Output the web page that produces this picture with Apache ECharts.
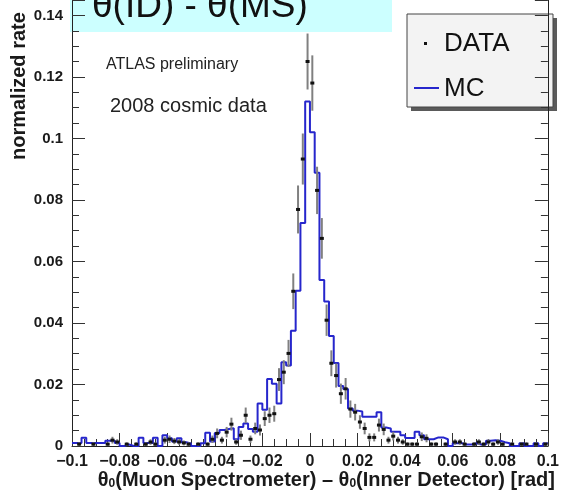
<!DOCTYPE html>
<html>
<head>
<meta charset="utf-8">
<script src="https://cdn.jsdelivr.net/npm/echarts@6/dist/echarts.min.js"></script>
<style>
  html, body { margin: 0; padding: 0; background: #ffffff; }
  #chart { width: 562px; height: 492px; }
</style>
</head>
<body>
<div id="chart"></div>
<script>
// Histogram binning: 100 bins of 0.002 rad from -0.1 to 0.1
const BIN_LOW = -0.1;
const BIN_WIDTH = 0.002;

// Monte Carlo normalized rate per bin
const mcRate = [
  0.0010, 0.0010, 0.0027, 0.0010, 0.0010, 0.0010, 0.0010, 0.0017, 0.0017, 0.0010,
  0.0000, 0.0005, 0.0000, 0.0000, 0.0027, 0.0010, 0.0010, 0.0027, 0.0000, 0.0035,
  0.0025, 0.0015, 0.0025, 0.0012, 0.0008, 0.0000, 0.0000, 0.0009, 0.0043, 0.0015,
  0.0042, 0.0052, 0.0055, 0.0058, 0.0022, 0.0062, 0.0073, 0.0055, 0.0046, 0.0138,
  0.0118, 0.0218, 0.0202, 0.0138, 0.0272, 0.0262, 0.0375, 0.0505, 0.0725, 0.1120,
  0.1020, 0.0888, 0.0540, 0.0470, 0.0358, 0.0270, 0.0195, 0.0185, 0.0122, 0.0115,
  0.0112, 0.0095, 0.0095, 0.0095, 0.0110, 0.0060, 0.0057, 0.0046, 0.0046, 0.0035,
  0.0026, 0.0026, 0.0046, 0.0035, 0.0022, 0.0022, 0.0028, 0.0028, 0.0022, 0.0000,
  0.0009, 0.0009, 0.0005, 0.0005, 0.0009, 0.0005, 0.0005, 0.0017, 0.0019, 0.0017,
  0.0012, 0.0009, 0.0000, 0.0000, 0.0009, 0.0000, 0.0000, 0.0009, 0.0000, 0.0009
];

// Cosmic data normalized rate per bin (null = empty bin)
const dataRate = [
  null,   0.0006, null,   null,   0.0006, null,   null,   0.0006, 0.0019, 0.0013,
  null,   0.0006, null,   0.0006, null,   0.0006, 0.0013, 0.0006, null,   0.0019,
  0.0022, 0.0016, 0.0013, 0.0010, 0.0006, null,   0.0006, null,   0.0006, 0.0022,
  0.0041, 0.0019, 0.0045, 0.0071, 0.0013, 0.0035, 0.0100, 0.0022, 0.0057, 0.0052,
  0.0089, 0.0100, 0.0105, 0.0216, 0.0240, 0.0301, 0.0503, 0.0769, 0.0933, 0.1250,
  0.1180, 0.0831, 0.0675, 0.0409, 0.0269, 0.0229, 0.0170, 0.0186, 0.0120, 0.0110,
  0.0078, 0.0057, 0.0028, 0.0028, 0.0068, 0.0054, 0.0019, 0.0032, 0.0019, 0.0013,
  0.0006, 0.0006, 0.0006, 0.0030, 0.0025, 0.0006, 0.0006, null,   0.0006, null,
  0.0013, 0.0013, 0.0006, null,   0.0006, 0.0013, 0.0006, 0.0013, 0.0006, 0.0013,
  0.0006, null,   0.0006, null,   0.0006, 0.0006, null,   0.0006, null,   0.0006
];

// Statistical uncertainty of each data bin
const dataErr = [
  0,      0.0006, 0,      0,      0.0006, 0,      0,      0.0006, 0.0011, 0.0009,
  0,      0.0006, 0,      0.0006, 0,      0.0006, 0.0009, 0.0006, 0,      0.0011,
  0.0012, 0.0010, 0.0009, 0.0008, 0.0006, 0,      0.0006, 0,      0.0006, 0.0012,
  0.0016, 0.0011, 0.0017, 0.0021, 0.0009, 0.0015, 0.0025, 0.0012, 0.0019, 0.0018,
  0.0024, 0.0025, 0.0026, 0.0037, 0.0039, 0.0044, 0.0058, 0.0078, 0.0083, 0.0091,
  0.0090, 0.0077, 0.0066, 0.0051, 0.0042, 0.0039, 0.0033, 0.0035, 0.0028, 0.0027,
  0.0022, 0.0019, 0.0013, 0.0013, 0.0021, 0.0019, 0.0011, 0.0014, 0.0011, 0.0009,
  0.0006, 0.0006, 0.0006, 0.0014, 0.0013, 0.0006, 0.0006, 0,      0.0006, 0,
  0.0009, 0.0009, 0.0006, 0,      0.0006, 0.0009, 0.0006, 0.0009, 0.0006, 0.0009,
  0.0006, 0,      0.0006, 0,      0.0006, 0.0006, 0,      0.0006, 0,      0.0006
];

// Axis tick labels
const xTickLabels = ['\u22120.1', '\u22120.08', '\u22120.06', '\u22120.04', '\u22120.02', '0', '0.02', '0.04', '0.06', '0.08', '0.1'];
const yTickLabels = ['0', '0.02', '0.04', '0.06', '0.08', '0.1', '0.12', '0.14'];

const FONT = '"Liberation Sans", Arial, Helvetica, sans-serif';
const MC_COLOR = '#2626cc';

// MC histogram as a stepped outline through the bin edges
const mcSteps = mcRate.map((v, i) => [BIN_LOW + i * BIN_WIDTH, v]);
mcSteps.push([BIN_LOW + mcRate.length * BIN_WIDTH, mcRate[mcRate.length - 1]]);

// Data points at bin centres with their error
const dataPoints = [];
dataRate.forEach((v, i) => {
  if (v !== null) dataPoints.push([BIN_LOW + (i + 0.5) * BIN_WIDTH, v, dataErr[i]]);
});

const chart = echarts.init(document.getElementById('chart'), null, { renderer: 'canvas' });

const tickStyle = { color: '#333', width: 1 };

chart.setOption({
  animation: false,
  backgroundColor: '#ffffff',
  grid: { left: 72, right: 9, top: -5, bottom: 46, containLabel: false },
  xAxis: [{
    type: 'value', min: -0.1, max: 0.1, interval: 0.02,
    axisLine: { show: true, onZero: false, lineStyle: { color: '#222', width: 1 } },
    axisTick: { show: true, inside: true, length: 13, lineStyle: tickStyle },
    minorTick: { show: true, splitNumber: 4, length: 7, lineStyle: tickStyle },
    splitLine: { show: false },
    axisLabel: {
      margin: 8, fontFamily: FONT, fontWeight: 'bold', fontSize: 16, color: '#1a1a1a',
      formatter: v => xTickLabels[Math.round((v - (-0.1)) / 0.02)]
    }
  }],
  yAxis: [{
    type: 'value', min: 0, max: 0.145, interval: 0.02, position: 'left',
    axisLine: { show: true, onZero: false, lineStyle: { color: '#222', width: 1 } },
    axisTick: { show: true, inside: true, length: 13, lineStyle: tickStyle },
    minorTick: { show: true, splitNumber: 4, length: 7, lineStyle: tickStyle },
    splitLine: { show: false },
    axisLabel: {
      margin: 9, fontFamily: FONT, fontWeight: 'bold', fontSize: 15, color: '#1a1a1a',
      showMaxLabel: false,
      formatter: v => yTickLabels[Math.round(v / 0.02)]
    }
  }, {
    type: 'value', min: 0, max: 0.145, interval: 0.02, position: 'right',
    axisLine: { show: true, onZero: false, lineStyle: { color: '#222', width: 1 } },
    axisTick: { show: true, inside: true, length: 13, lineStyle: tickStyle },
    minorTick: { show: true, splitNumber: 4, length: 7, lineStyle: tickStyle },
    splitLine: { show: false },
    axisLabel: { show: false }
  }],
  series: [{
    name: 'MC',
    type: 'line',
    step: 'end',
    data: mcSteps,
    showSymbol: false,
    symbol: 'none',
    lineStyle: { color: MC_COLOR, width: 2 },
    z: 3
  }, {
    name: 'DATA',
    type: 'custom',
    data: dataPoints,
    encode: { x: 0, y: 1 },
    z: 4,
    renderItem: (params, api) => {
      const x = api.value(0), y = api.value(1), e = api.value(2);
      const top = api.coord([x, y + e]);
      const bot = api.coord([x, Math.max(y - e, 0)]);
      const c = api.coord([x, y]);
      return {
        type: 'group',
        children: [{
          type: 'line',
          shape: { x1: top[0], y1: top[1], x2: bot[0], y2: bot[1] },
          style: { stroke: '#808080', lineWidth: 2 }
        }, {
          type: 'rect',
          shape: { x: c[0] - 2, y: c[1] - 1.5, width: 4, height: 3 },
          style: { fill: '#111111' }
        }]
      };
    }
  }],
  graphic: [
    // y-axis title
    {
      type: 'text', x: 19, y: 160, rotation: Math.PI / 2, z: 10,
      style: { text: 'normalized rate', fontFamily: FONT, fontWeight: 'bold', fontSize: 20,
               fill: '#1a1a1a', align: 'left', verticalAlign: 'middle' }
    },
    // x-axis title with subscripts
    {
      type: 'text', x: 555, y: 480, z: 10,
      style: {
        text: '{m|\u03b8}{s|0}{m|(Muon Spectrometer) \u2013 \u03b8}{s|0}{m|(Inner Detector) [rad]}',
        align: 'right', verticalAlign: 'middle', fill: '#1a1a1a',
        rich: {
          m: { fontFamily: FONT, fontWeight: 'bold', fontSize: 20, lineHeight: 20, verticalAlign: 'top', fill: '#1a1a1a' },
          s: { fontFamily: FONT, fontWeight: 'bold', fontSize: 12, lineHeight: 12, padding: [14, 0, 0, 0], verticalAlign: 'bottom', fill: '#1a1a1a' }
        }
      }
    },
    // annotations
    {
      type: 'text', x: 106, y: 65, z: 10,
      style: { text: 'ATLAS preliminary', fontFamily: FONT, fontSize: 16, fill: '#222',
               align: 'left', verticalAlign: 'middle' }
    },
    {
      type: 'text', x: 110, y: 106, z: 10,
      style: { text: '2008 cosmic data', fontFamily: FONT, fontSize: 20, fill: '#222',
               align: 'left', verticalAlign: 'middle' }
    },
    // legend box
    {
      type: 'group', z: 20,
      children: [
        { type: 'rect', shape: { x: 411, y: 18, width: 146, height: 93 }, style: { fill: '#5a5a5a' } },
        { type: 'rect', shape: { x: 407, y: 14, width: 146, height: 93 }, style: { fill: '#f3f3f3', stroke: '#444', lineWidth: 1 } },
        { type: 'rect', shape: { x: 424, y: 42, width: 3, height: 3 }, style: { fill: '#111' } },
        { type: 'text', x: 444, y: 44, style: { text: 'DATA', fontFamily: FONT, fontSize: 26, fill: '#111', align: 'left', verticalAlign: 'middle' } },
        { type: 'line', shape: { x1: 414, y1: 88, x2: 439, y2: 88 }, style: { stroke: MC_COLOR, lineWidth: 2 } },
        { type: 'text', x: 444, y: 89, style: { text: 'MC', fontFamily: FONT, fontSize: 26, fill: '#111', align: 'left', verticalAlign: 'middle' } }
      ]
    },
    // title banner
    {
      type: 'group', z: 30,
      children: [
        { type: 'rect', shape: { x: 70, y: 0, width: 322, height: 32 }, style: { fill: '#ccffff' } },
        { type: 'text', x: 92, y: 7, style: { text: '\u03b8(ID) - \u03b8(MS)', fontFamily: FONT, fontSize: 37, fill: '#111', align: 'left', verticalAlign: 'middle' } }
      ]
    }
  ]
});
</script>
</body>
</html>
